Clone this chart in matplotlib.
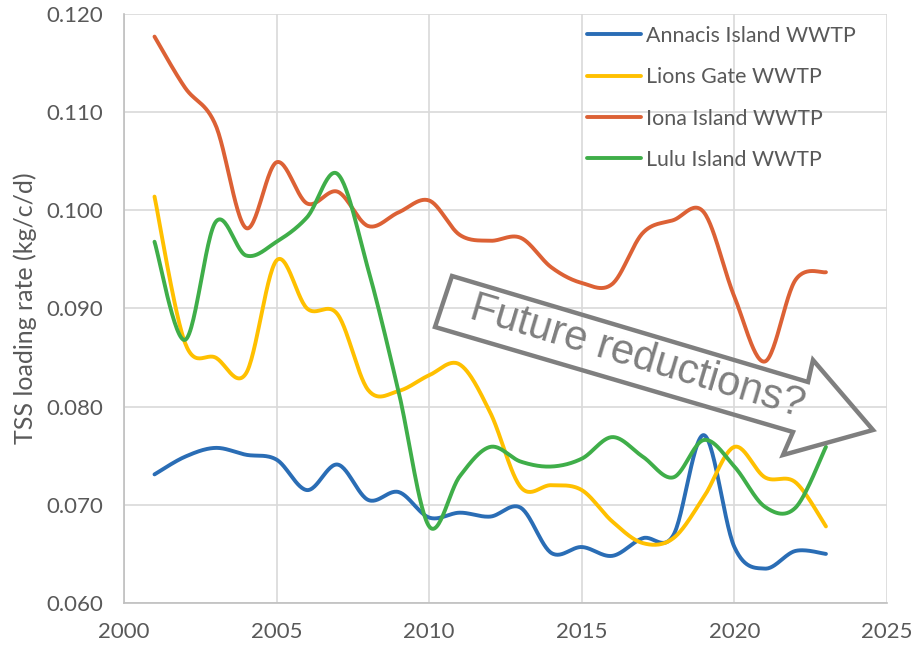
import numpy as np
import matplotlib.pyplot as plt
from matplotlib.patches import Polygon

years = list(range(2001, 2024))

annacis = [0.0731, 0.0749, 0.0758, 0.0751, 0.0746, 0.0715, 0.0741, 0.0705, 0.0713, 0.0687,
           0.0692, 0.0688, 0.0697, 0.0651, 0.0657, 0.0648, 0.0666, 0.0669, 0.0771, 0.0657,
           0.0635, 0.0653, 0.0650]
lions_gate = [0.1014, 0.0865, 0.0850, 0.0834, 0.0949, 0.0900, 0.0894, 0.0817, 0.0816, 0.0832,
              0.0843, 0.0794, 0.0718, 0.0720, 0.0715, 0.0683, 0.0661, 0.0666, 0.0708, 0.0759,
              0.0728, 0.0723, 0.0678]
iona = [0.1177, 0.1125, 0.1087, 0.0982, 0.1049, 0.1007, 0.1019, 0.0984, 0.0998, 0.1010,
        0.0975, 0.0969, 0.0972, 0.0942, 0.0926, 0.0925, 0.0977, 0.0990, 0.0998, 0.0912,
        0.0846, 0.0929, 0.0937]
lulu = [0.0968, 0.0868, 0.0988, 0.0954, 0.0968, 0.0993, 0.1037, 0.0940, 0.0815, 0.0678,
        0.0729, 0.0759, 0.0744, 0.0739, 0.0747, 0.0769, 0.0749, 0.0728, 0.0766, 0.0739,
        0.0698, 0.0697, 0.0759]

series = [
    ("Annacis Island WWTP", annacis, "#2a6db5"),
    ("Lions Gate WWTP", lions_gate, "#ffc000"),
    ("Iona Island WWTP", iona, "#dc6135"),
    ("Lulu Island WWTP", lulu, "#3fae49"),
]


def smooth(x, y, n=30):
    # bezier smoothing through every point, like a spreadsheet "smoothed line"
    x = np.asarray(x, float)
    y = np.asarray(y, float)
    px = np.concatenate([[x[0]], x, [x[-1]]])
    py = np.concatenate([[y[0]], y, [y[-1]]])
    xs, ys = [], []
    t = np.linspace(0, 1, n)
    for i in range(1, len(px) - 2):
        p0 = np.array([px[i], py[i]])
        p3 = np.array([px[i + 1], py[i + 1]])
        p1 = p0 + (np.array([px[i + 1], py[i + 1]]) - np.array([px[i - 1], py[i - 1]])) / 6
        p2 = p3 - (np.array([px[i + 2], py[i + 2]]) - np.array([px[i], py[i]])) / 6
        b = ((1 - t) ** 3)[:, None] * p0 + (3 * (1 - t) ** 2 * t)[:, None] * p1 \
            + (3 * (1 - t) * t ** 2)[:, None] * p2 + (t ** 3)[:, None] * p3
        xs.extend(b[:, 0])
        ys.extend(b[:, 1])
    return xs, ys


plt.rcParams['font.family'] = ['Lato', 'DejaVu Sans']

fig = plt.figure(figsize=(9.13, 6.46), dpi=100)
ax = fig.add_axes([0.1358, 0.0666, 0.9715 - 0.1358, 0.9783 - 0.0666])

for name, vals, color in series:
    sx, sy = smooth(years, vals)
    ax.plot(sx, sy, color=color, lw=2.8, label=name, solid_capstyle="round")

ax.set_xlim(2000, 2025)
ax.set_ylim(0.060, 0.120)
ax.set_xticks(range(2000, 2026, 5))
ax.set_yticks(np.arange(0.060, 0.1201, 0.010))
ax.set_yticklabels([f"{v:.3f}" for v in np.arange(0.060, 0.1201, 0.010)])
ax.grid(True, color="#d9d9d9", lw=1.2)
ax.set_axisbelow(True)
for s in ["top", "right"]:
    ax.spines[s].set_visible(False)
for s in ["left", "bottom"]:
    ax.spines[s].set_color("#bfbfbf")
    ax.spines[s].set_linewidth(1.2)
ax.tick_params(length=0, labelsize=16, labelcolor="#595959")
ax.tick_params(axis="y", pad=15)
ax.tick_params(axis="x", pad=14)
ax.set_ylabel("TSS loading rate (kg/c/d)", fontsize=18, color="#595959", va="center")
ax.yaxis.set_label_coords(-0.13, 0.5)

ax.legend(loc="upper left", bbox_to_anchor=(0.607, 0.98), frameon=False, fontsize=15.4,
          labelcolor="#595959", handlelength=2.5, handletextpad=0.25, labelspacing=1.0,
          borderaxespad=0, borderpad=0)

# hollow arrow annotation (pixel positions -> figure fraction)
W, H = 913, 646
arrow_px = [(452, 276), (808, 382), (813, 360), (873, 430), (783, 455), (793, 432), (435, 327)]
arrow = Polygon([(x / W, 1 - y / H) for x, y in arrow_px], closed=True, fill=False,
                edgecolor="#7f7f7f", lw=3.2, transform=fig.transFigure, joinstyle="miter")
fig.patches.append(arrow)
fig.text(637 / W, 1 - 357 / H, "Future reductions?", rotation=-16.6, rotation_mode="anchor",
         ha="center", va="center", fontsize=30, color="#7f7f7f", family="Liberation Sans")

fig.savefig("out.png", dpi=100)
